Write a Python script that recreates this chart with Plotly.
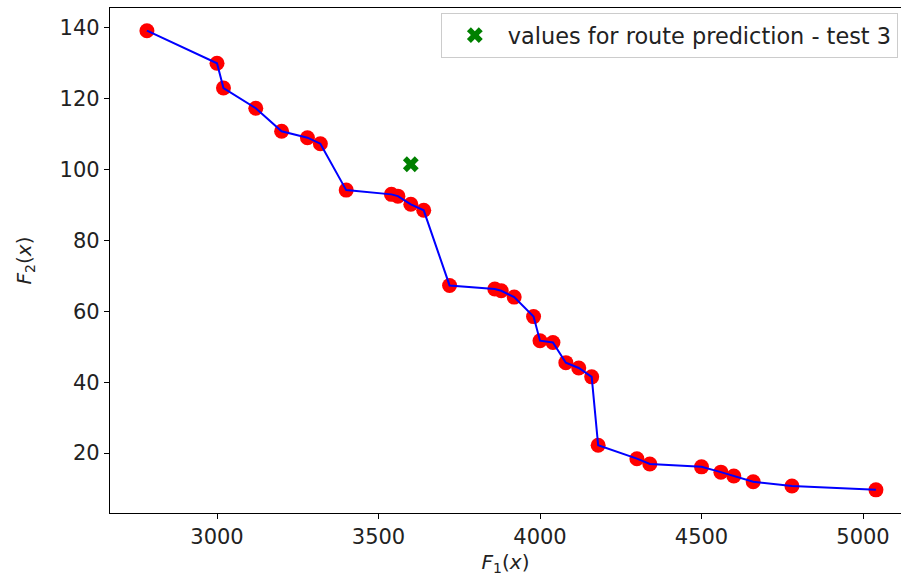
import plotly.graph_objects as go

f1 = [2783, 3000, 3020, 3120, 3200, 3280, 3320, 3400, 3540, 3560, 3600, 3640,
      3720, 3860, 3880, 3920, 3980, 4000, 4040, 4080, 4120, 4160, 4180, 4300,
      4340, 4500, 4560, 4600, 4660, 4780, 5040]
f2 = [139.2, 130.0, 123.0, 117.3, 110.8, 109.0, 107.3, 94.2, 93.0, 92.5, 90.2, 88.5,
      67.3, 66.3, 65.8, 64.0, 58.5, 51.7, 51.2, 45.5, 44.0, 41.5, 22.2, 18.4,
      16.9, 16.1, 14.6, 13.5, 11.9, 10.7, 9.6]
pred_f1 = [3600]
pred_f2 = [101.5]
legend_label = "values for route prediction - test 3"

fig = go.Figure()
fig.add_trace(go.Scatter(x=f1, y=f2, mode="markers", showlegend=False,
                         marker=dict(color="red", size=15, line=dict(width=0))))
fig.add_trace(go.Scatter(x=f1, y=f2, mode="lines", showlegend=False,
                         line=dict(color="blue", width=2)))
fig.add_trace(go.Scatter(x=pred_f1, y=pred_f2, mode="markers", name=legend_label,
                         marker=dict(color="green", symbol="x", size=14, line=dict(width=0))))

axis_common = dict(showgrid=False, zeroline=False, showline=True, linecolor="black",
                   linewidth=1.2, ticks="outside", ticklen=5, tickwidth=1.2,
                   tickcolor="black", tickfont=dict(size=21, color="#222"))

fig.update_layout(
    width=901, height=576,
    margin=dict(l=110, r=0, t=8, b=63),
    plot_bgcolor="white", paper_bgcolor="white",
    font=dict(family="DejaVu Sans", color="#222"),
    xaxis=dict(range=[2668.7, 5117.6], tickvals=[3000, 3500, 4000, 4500, 5000],
               mirror=True,
               title=dict(text="<i>F</i><sub>1</sub>(<i>x</i>)", font=dict(size=20), standoff=8),
               **axis_common),
    yaxis=dict(range=[3.07, 145.6], tickvals=[20, 40, 60, 80, 100, 120, 140],
               title=dict(text="<i>F</i><sub>2</sub>(<i>x</i>)", font=dict(size=20), standoff=22),
               **axis_common),
    legend=dict(x=0.996, y=0.99, xanchor="right", yanchor="top",
                bgcolor="rgba(255,255,255,0.8)", bordercolor="#cccccc", borderwidth=1,
                itemwidth=56,
                font=dict(size=22.4, color="#222")),
)

fig.write_html("out.html", config={"displayModeBar": False},
               post_script="document.body.style.margin='0px';")
